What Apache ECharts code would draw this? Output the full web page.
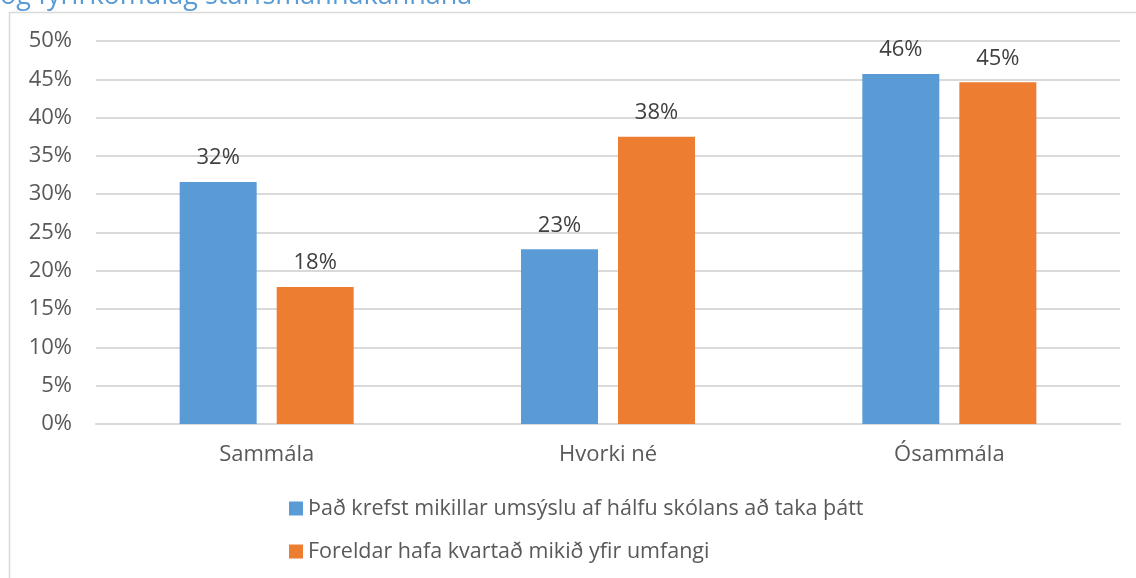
<!DOCTYPE html>
<html>
<head>
<meta charset="utf-8">
<script src="https://cdn.jsdelivr.net/npm/echarts@6/dist/echarts.min.js"></script>
<style>
  html, body { margin: 0; padding: 0; background: #fff; }
  #chart { width: 1136px; height: 578px; }
</style>
</head>
<body>
<div id="chart"></div>
<script>
// gögn lesin af myndinni
const categories = ['Sammála', 'Hvorki né', 'Ósammála'];
const seriesNames = [
  'Það krefst mikillar umsýslu af hálfu skólans að taka þátt',
  'Foreldar hafa kvartað mikið yfir umfangi'
];
const krefstUmsyslu = [31.6, 22.8, 45.7];
const foreldrarKvarta = [17.9, 37.5, 44.6];
const titleText = 'og fyrirkomulag starfsmannakannana';

const FONT = '"Open Sans", sans-serif';
const colors = ['#5b9bd5', '#ed7d31'];

const myChart = echarts.init(document.getElementById('chart'));

const labelOpt = {
  show: true,
  position: 'top',
  distance: 13,
  color: '#404040',
  fontSize: 22,
  fontFamily: FONT,
  formatter: p => Math.round(p.value) + '%'
};

myChart.setOption({
  animation: false,
  backgroundColor: '#fff',
  graphic: [
    {
      type: 'rect',
      shape: { x: 9.5, y: 12.5, width: 1200, height: 700 },
      style: { fill: 'none', stroke: '#d9d9d9', lineWidth: 1.5 },
      silent: true
    },
    {
      type: 'text',
      left: 0,
      top: -17,
      style: {
        text: titleText,
        fill: '#5b9bd5',
        font: '27px ' + FONT
      }
    }
  ],
  grid: { left: 96, right: 16, top: 41, bottom: 154, containLabel: false },
  legend: {
    orient: 'vertical',
    left: 284,
    top: 492,
    itemWidth: 14,
    itemHeight: 14,
    itemGap: 20,
    icon: 'rect',
    textStyle: { color: '#595959', fontSize: 21.5, lineHeight: 23, fontFamily: FONT },
    data: seriesNames
  },
  xAxis: {
    type: 'category',
    data: categories,
    axisLine: { lineStyle: { color: '#d9d9d9', width: 2 } },
    axisTick: { show: false },
    axisLabel: { color: '#595959', fontSize: 22, fontFamily: FONT, margin: 20 }
  },
  yAxis: {
    type: 'value',
    min: 0,
    max: 50,
    interval: 5,
    axisLine: { show: false },
    axisTick: { show: false },
    axisLabel: {
      color: '#595959', fontSize: 22, fontFamily: FONT, margin: 24,
      formatter: v => v + '%'
    },
    splitLine: { lineStyle: { color: '#d9d9d9', width: 2 } }
  },
  series: [
    {
      name: seriesNames[0],
      type: 'bar',
      data: krefstUmsyslu,
      barWidth: 77,
      barGap: '26%',
      itemStyle: { color: colors[0] },
      label: labelOpt
    },
    {
      name: seriesNames[1],
      type: 'bar',
      data: foreldrarKvarta,
      barWidth: 77,
      barGap: '26%',
      itemStyle: { color: colors[1] },
      label: labelOpt
    }
  ]
});
</script>
</body>
</html>
